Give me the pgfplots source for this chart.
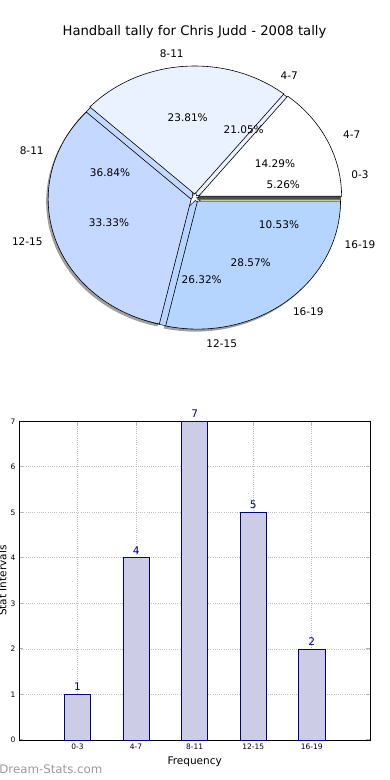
\documentclass[border=0pt]{standalone}
\usepackage{pgfplots}
\pgfplotsset{compat=1.18}
\usepackage{fontspec}
\setmainfont{DejaVu Sans}
\definecolor{cA}{RGB}{235,242,255}
\definecolor{cB}{RGB}{197,216,255}
\definecolor{cC}{RGB}{181,213,255}
\definecolor{cD}{RGB}{80,80,80}
\definecolor{cE}{RGB}{222,232,176}
\definecolor{barfill}{RGB}{204,204,230}
\definecolor{navy}{RGB}{0,0,128}
\definecolor{wm}{RGB}{155,155,155}
% #1 cumulative start, #2 cumulative end, #3 total, #4 explode, #5 dx, #6 dy, #7 style
\newcommand\pieslice[7]{%
 \path[#7] (axis cs:{195+#5+#4*cos(180*(#1+#2)/#3)},{582+#6+#4*sin(180*(#1+#2)/#3)})
 -- (axis cs:{195+#5+#4*cos(180*(#1+#2)/#3)+143*cos(360*#1/#3)},{582+#6+#4*sin(180*(#1+#2)/#3)+128*sin(360*#1/#3)})
 arc[start angle={360*#1/#3}, end angle={360*#2/#3}, x radius=143pt, y radius=128pt] -- cycle;}
\newcommand\fs[1]{\fontsize{#1}{#1}\selectfont}
\begin{document}
\begin{tikzpicture}
\useasboundingbox (0,0) rectangle (390pt,780pt);
\node[anchor=base, font=\fs{13.2}] at (194.5pt,744.3pt) {Handball tally for Chris Judd - 2008 tally};
% ---------- pie ----------
\begin{axis}[at={(0pt,390pt)}, anchor=south west, x=1pt, y=1pt,
  xmin=0, xmax=390, ymin=390, ymax=780, hide axis, clip=false]
% shadows of the outer (21) pie
\pieslice{0}{3}{21}{4}{-2}{-2.5}{fill=gray!75}
\pieslice{3}{8}{21}{4}{-2}{-2.5}{fill=gray!75}
\pieslice{8}{15}{21}{4}{-2}{-2.5}{fill=gray!75}
\pieslice{15}{21}{21}{4}{-2}{-2.5}{fill=gray!75}
% counts 1,4,7,5,2 (total 19)
\pieslice{0}{1}{19}{2.5}{0}{0}{fill=cD, draw=black, line width=0.5pt}
\pieslice{1}{5}{19}{2.5}{0}{0}{fill=cA, draw=black, line width=0.5pt}
\pieslice{5}{12}{19}{2.5}{0}{0}{fill=cB, draw=black, line width=0.5pt}
\pieslice{12}{17}{19}{2.5}{0}{0}{fill=cC, draw=black, line width=0.5pt}
\pieslice{17}{19}{19}{2.5}{0}{0}{fill=cE, draw=black, line width=0.5pt}
% shadow of the first exploded slice, seen in the gap
\pieslice{0}{3}{21}{4}{-1}{-3.3}{fill=black!70}
% counts 3,5,7,6 (total 21), exploded
\pieslice{0}{3}{21}{4}{0}{0}{fill=white, draw=black, line width=0.6pt}
\pieslice{3}{8}{21}{4}{0}{0}{fill=cA, draw=black, line width=0.6pt}
\pieslice{8}{15}{21}{4}{0}{0}{fill=cB, draw=black, line width=0.6pt}
\pieslice{15}{21}{21}{4}{0}{0}{fill=cC, draw=black, line width=0.6pt}
% category labels
\begin{scope}[every node/.style={font=\fs{10.5}, inner sep=0pt}]
\node at (axis cs:171.7,726.7) {8-11};
\node at (axis cs:289.3,704) {4-7};
\node at (axis cs:351.7,645) {4-7};
\node at (axis cs:360,605.7) {0-3};
\node at (axis cs:31.7,629) {8-11};
\node at (axis cs:27.3,538.3) {12-15};
\node at (axis cs:360,535) {16-19};
\node at (axis cs:308.3,468.3) {16-19};
\node at (axis cs:221.7,436.7) {12-15};
% percentages
\node at (axis cs:187.7,662.7) {23.81\%};
\node at (axis cs:243.7,650) {21.05\%};
\node at (axis cs:275,616.7) {14.29\%};
\node at (axis cs:283.3,595) {5.26\%};
\node at (axis cs:110,607.7) {36.84\%};
\node at (axis cs:109,557.3) {33.33\%};
\node at (axis cs:279,555) {10.53\%};
\node at (axis cs:250.7,517.7) {28.57\%};
\node at (axis cs:201.7,500.7) {26.32\%};
\end{scope}
\end{axis}
% ---------- bars ----------
\begin{axis}[at={(19pt,40pt)}, anchor=south west, scale only axis,
  width=351.3pt, height=318.7pt,
  xmin=-1, xmax=5, ymin=0, ymax=7,
  ybar, bar width=0.45,
  xtick={0,1,2,3,4}, xticklabels={0-3,4-7,8-11,12-15,16-19},
  ytick={0,1,2,3,4,5,6,7},
  /pgf/number format/assume math mode=true,
  tick align=inside, major tick length=4pt,
  tick style={gray!60, line width=1pt},
  xmajorgrids, ymajorgrids,
  grid style={gray!50, line width=0.8pt, dash pattern=on 0.8pt off 1.4pt},
  axis line style={black, line width=0.8pt},
  ticklabel style={font=\fs{7.5}},
  xlabel={Frequency}, ylabel={Stat Intervals},
  label style={font=\fs{10.5}},
  xlabel style={at={(axis description cs:0.5,0)}, anchor=base, yshift=-24pt},
  ylabel style={at={(axis description cs:-0.0356,0.5)}, anchor=base},
  clip=false,
  nodes near coords,
  nodes near coords style={font=\fs{10.5}, text=navy},
]
\addplot[fill=barfill, draw=navy, line width=0.8pt] coordinates {(0,1) (1,4) (2,7) (3,5) (4,2)};
\end{axis}
\node[anchor=base west, font=\fs{11.8}, text=wm, inner sep=0pt] at (-0.8pt,6pt) {Dream-Stats.com};
\end{tikzpicture}
\end{document}
